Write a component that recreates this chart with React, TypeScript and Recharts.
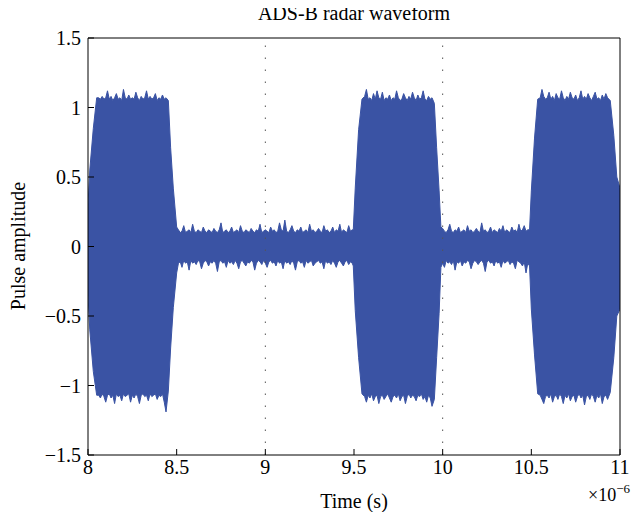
import React from "react";
import { ComposedChart, Area, XAxis, YAxis, ReferenceLine } from "recharts";

// Time in microseconds (axis shows ×10^-6 s); envelope of the waveform
const time = [
  // pulse 1 rise
  8.0, 8.01, 8.03, 8.049,
  // pulse 1 top
  8.06, 8.07, 8.08, 8.09, 8.1, 8.11, 8.12, 8.13, 8.14, 8.15,
  8.16, 8.17, 8.18, 8.19, 8.2, 8.21, 8.22, 8.23, 8.24, 8.25,
  8.26, 8.27, 8.28, 8.29, 8.3, 8.31, 8.32, 8.33, 8.34, 8.35,
  8.36, 8.37, 8.38, 8.39, 8.4, 8.41, 8.42, 8.43, 8.44,
  // pulse 1 fall
  8.453, 8.466, 8.481, 8.5,
  // gap 1
  8.51, 8.52, 8.53, 8.54, 8.55, 8.56, 8.57, 8.58, 8.59, 8.6,
  8.61, 8.62, 8.63, 8.64, 8.65, 8.66, 8.67, 8.68, 8.69, 8.7,
  8.71, 8.72, 8.73, 8.74, 8.75, 8.76, 8.77, 8.78, 8.79, 8.8,
  8.81, 8.82, 8.83, 8.84, 8.85, 8.86, 8.87, 8.88, 8.89, 8.9,
  8.91, 8.92, 8.93, 8.94, 8.95, 8.96, 8.97, 8.98, 8.99, 9.0,
  9.01, 9.02, 9.03, 9.04, 9.05, 9.06, 9.07, 9.08, 9.09, 9.1,
  9.11, 9.12, 9.13, 9.14, 9.15, 9.16, 9.17, 9.18, 9.19, 9.2,
  9.21, 9.22, 9.23, 9.24, 9.25, 9.26, 9.27, 9.28, 9.29, 9.3,
  9.31, 9.32, 9.33, 9.34, 9.35, 9.36, 9.37, 9.38, 9.39, 9.4,
  9.41, 9.42, 9.43, 9.44, 9.45, 9.46, 9.47, 9.48, 9.49,
  // pulse 2 rise
  9.496, 9.507, 9.526, 9.545,
  // pulse 2 top
  9.56, 9.57, 9.58, 9.59, 9.6, 9.61, 9.62, 9.63, 9.64, 9.65,
  9.66, 9.67, 9.68, 9.69, 9.7, 9.71, 9.72, 9.73, 9.74, 9.75,
  9.76, 9.77, 9.78, 9.79, 9.8, 9.81, 9.82, 9.83, 9.84, 9.85,
  9.86, 9.87, 9.88, 9.89, 9.9, 9.91, 9.92, 9.93, 9.94,
  // pulse 2 fall
  9.953, 9.966, 9.98, 9.99,
  // gap 2
  10.0, 10.01, 10.02, 10.03, 10.04, 10.05, 10.06, 10.07, 10.08, 10.09,
  10.1, 10.11, 10.12, 10.13, 10.14, 10.15, 10.16, 10.17, 10.18, 10.19,
  10.2, 10.21, 10.22, 10.23, 10.24, 10.25, 10.26, 10.27, 10.28, 10.29,
  10.3, 10.31, 10.32, 10.33, 10.34, 10.35, 10.36, 10.37, 10.38, 10.39,
  10.4, 10.41, 10.42, 10.43, 10.44, 10.45, 10.46, 10.47, 10.48,
  // pulse 3 rise
  10.49, 10.5, 10.518, 10.536,
  // pulse 3 top
  10.55, 10.56, 10.57, 10.58, 10.59, 10.6, 10.61, 10.62, 10.63, 10.64,
  10.65, 10.66, 10.67, 10.68, 10.69, 10.7, 10.71, 10.72, 10.73, 10.74,
  10.75, 10.76, 10.77, 10.78, 10.79, 10.8, 10.81, 10.82, 10.83, 10.84,
  10.85, 10.86, 10.87, 10.88, 10.89, 10.9, 10.91, 10.92, 10.93,
  // pulse 3 fall
  10.945, 10.965, 10.982, 11.0,
];

const upper = [
  0.3, 0.55, 0.85, 1.07,
  1.07, 1.06, 1.08, 1.06, 1.07, 1.12, 1.06, 1.08, 1.05, 1.07,
  1.1, 1.06, 1.07, 1.05, 1.13, 1.07, 1.06, 1.09, 1.06, 1.07,
  1.06, 1.11, 1.07, 1.05, 1.08, 1.06, 1.07, 1.12, 1.06, 1.08,
  1.06, 1.07, 1.1, 1.05, 1.07, 1.06, 1.09, 1.06, 1.07,
  1.05, 0.71, 0.42, 0.14,
  0.12, 0.1, 0.11, 0.15, 0.1, 0.11, 0.12, 0.1, 0.16, 0.11,
  0.1, 0.12, 0.11, 0.1, 0.14, 0.11, 0.1, 0.12, 0.11, 0.1,
  0.13, 0.11, 0.1, 0.12, 0.17, 0.1, 0.11, 0.12, 0.1, 0.11,
  0.14, 0.1, 0.11, 0.12, 0.1, 0.15, 0.11, 0.1, 0.12, 0.11,
  0.1, 0.13, 0.11, 0.1, 0.12, 0.11, 0.16, 0.1, 0.11, 0.12,
  0.11, 0.1, 0.14, 0.11, 0.12, 0.1, 0.11, 0.17, 0.12, 0.11,
  0.19, 0.11, 0.1, 0.12, 0.15, 0.11, 0.1, 0.12, 0.11, 0.14,
  0.1, 0.11, 0.12, 0.1, 0.16, 0.11, 0.12, 0.1, 0.11, 0.13,
  0.11, 0.1, 0.15, 0.11, 0.12, 0.1, 0.11, 0.14, 0.1, 0.12,
  0.11, 0.16, 0.1, 0.12, 0.11, 0.1, 0.15, 0.11, 0.12,
  0.12, 0.42, 0.84, 1.06,
  1.08, 1.13, 1.06, 1.07, 1.05, 1.1, 1.06, 1.12, 1.07, 1.06,
  1.11, 1.05, 1.07, 1.06, 1.09, 1.05, 1.07, 1.06, 1.12, 1.07,
  1.05, 1.06, 1.1, 1.07, 1.05, 1.08, 1.06, 1.11, 1.07, 1.05,
  1.09, 1.06, 1.07, 1.12, 1.06, 1.05, 1.08, 1.06, 1.07,
  1.03, 0.71, 0.4, 0.14,
  0.13, 0.11, 0.1, 0.12, 0.16, 0.11, 0.1, 0.12, 0.11, 0.14,
  0.1, 0.11, 0.12, 0.1, 0.15, 0.11, 0.12, 0.1, 0.11, 0.13,
  0.11, 0.1, 0.17, 0.11, 0.12, 0.1, 0.11, 0.14, 0.1, 0.12,
  0.11, 0.1, 0.13, 0.11, 0.15, 0.1, 0.12, 0.11, 0.1, 0.14,
  0.11, 0.12, 0.1, 0.16, 0.11, 0.12, 0.15, 0.11, 0.12,
  0.12, 0.4, 0.78, 1.06,
  1.07, 1.13, 1.08, 1.06, 1.07, 1.11, 1.06, 1.08, 1.05, 1.1,
  1.07, 1.06, 1.12, 1.07, 1.05, 1.08, 1.06, 1.11, 1.07, 1.06,
  1.09, 1.05, 1.07, 1.12, 1.06, 1.08, 1.06, 1.1, 1.07, 1.05,
  1.08, 1.11, 1.06, 1.07, 1.05, 1.09, 1.06, 1.1, 1.07,
  1.05, 0.8, 0.5, 0.42,
];

const lower = [
  -0.35, -0.6, -0.9, -1.07,
  -1.07, -1.09, -1.06, -1.08, -1.12, -1.07, -1.06, -1.09, -1.07, -1.13,
  -1.06, -1.08, -1.07, -1.11, -1.06, -1.08, -1.07, -1.06, -1.12, -1.07,
  -1.09, -1.06, -1.08, -1.13, -1.07, -1.06, -1.08, -1.07, -1.11, -1.06,
  -1.08, -1.07, -1.06, -1.1, -1.07, -1.08, -1.06, -1.12, -1.19,
  -1.04, -0.73, -0.44, -0.19,
  -0.12, -0.11, -0.15, -0.1, -0.12, -0.11, -0.17, -0.1, -0.12, -0.11,
  -0.13, -0.1, -0.11, -0.16, -0.12, -0.1, -0.11, -0.14, -0.11, -0.12,
  -0.1, -0.12, -0.18, -0.11, -0.1, -0.12, -0.11, -0.15, -0.1, -0.12,
  -0.11, -0.13, -0.1, -0.12, -0.16, -0.11, -0.1, -0.12, -0.14, -0.11,
  -0.12, -0.1, -0.11, -0.17, -0.12, -0.1, -0.11, -0.13, -0.1, -0.12,
  -0.15, -0.11, -0.1, -0.12, -0.11, -0.14, -0.1, -0.12, -0.11, -0.16,
  -0.1, -0.12, -0.11, -0.13, -0.1, -0.12, -0.17, -0.11, -0.1, -0.12,
  -0.11, -0.15, -0.1, -0.12, -0.11, -0.1, -0.14, -0.12, -0.11, -0.1,
  -0.12, -0.11, -0.16, -0.1, -0.12, -0.11, -0.13, -0.1, -0.12, -0.15,
  -0.11, -0.1, -0.12, -0.14, -0.11, -0.1, -0.13, -0.11, -0.12,
  -0.14, -0.46, -0.8, -1.06,
  -1.08, -1.12, -1.07, -1.09, -1.06, -1.11, -1.08, -1.07, -1.13, -1.08,
  -1.07, -1.1, -1.08, -1.06, -1.09, -1.12, -1.08, -1.07, -1.09, -1.06,
  -1.11, -1.08, -1.07, -1.13, -1.08, -1.06, -1.09, -1.07, -1.08, -1.11,
  -1.07, -1.08, -1.06, -1.1, -1.08, -1.12, -1.07, -1.09, -1.15,
  -1.1, -0.8, -0.48, -0.15,
  -0.12, -0.15, -0.1, -0.12, -0.11, -0.13, -0.1, -0.17, -0.11, -0.12,
  -0.1, -0.14, -0.11, -0.12, -0.1, -0.11, -0.16, -0.12, -0.1, -0.11,
  -0.13, -0.11, -0.1, -0.12, -0.18, -0.11, -0.1, -0.12, -0.11, -0.14,
  -0.1, -0.12, -0.11, -0.15, -0.1, -0.12, -0.11, -0.1, -0.13, -0.11,
  -0.12, -0.16, -0.1, -0.11, -0.12, -0.14, -0.11, -0.19, -0.12,
  -0.14, -0.45, -0.78, -1.06,
  -1.07, -1.1, -1.13, -1.08, -1.07, -1.09, -1.06, -1.12, -1.08, -1.07,
  -1.1, -1.06, -1.08, -1.13, -1.07, -1.09, -1.06, -1.11, -1.08, -1.07,
  -1.12, -1.08, -1.06, -1.09, -1.07, -1.14, -1.08, -1.07, -1.1, -1.06,
  -1.08, -1.12, -1.07, -1.09, -1.06, -1.13, -1.08, -1.07, -1.1,
  -1.05, -0.8, -0.5, -0.45,
];

const xTicks = [8, 8.5, 9, 9.5, 10, 10.5, 11];
const yTicks = [-1.5, -1, -0.5, 0, 0.5, 1, 1.5];
const gridX = [9, 10];

const data = time.map((t, i) => ({ t, range: [lower[i], upper[i]] }));

const FONT = '"Liberation Serif", "DejaVu Serif", serif';
const BLUE = "#3A53A4";
const fmt = (v: number) => String(v).replace("-", "\u2212");

const textBase: React.CSSProperties = {
  position: "absolute",
  fontSize: 20,
  lineHeight: "20px",
  whiteSpace: "nowrap",
};

export default function App() {
  return (
    <div style={{ position: "relative", width: 623, height: 504, fontFamily: FONT, color: "#000" }}>
      <ComposedChart
        width={623}
        height={504}
        data={data}
        margin={{ top: 29, right: 10, left: 0, bottom: 0 }}
      >
        <XAxis
          dataKey="t"
          type="number"
          domain={[8, 11]}
          ticks={xTicks}
          tickFormatter={fmt}
          allowDataOverflow
          height={57}
          tickSize={-6}
          tickMargin={11}
          stroke="#000"
          tick={{ fill: "#000", fontSize: 20, fontFamily: FONT }}
          interval={0}
        />
        <XAxis
          xAxisId="top"
          dataKey="t"
          type="number"
          orientation="top"
          domain={[8, 11]}
          ticks={xTicks}
          allowDataOverflow
          height={1}
          tickSize={-6}
          tick={false}
          stroke="#000"
          interval={0}
        />
        <YAxis
          type="number"
          domain={[-1.5, 1.5]}
          ticks={yTicks}
          tickFormatter={fmt}
          allowDataOverflow
          width={80}
          tickSize={-6}
          tickMargin={13}
          stroke="#000"
          tick={{ fill: "#000", fontSize: 20, fontFamily: FONT }}
          interval={0}
        />
        <YAxis
          yAxisId="right"
          type="number"
          orientation="right"
          domain={[-1.5, 1.5]}
          ticks={yTicks}
          allowDataOverflow
          width={1}
          tickSize={-6}
          tick={false}
          stroke="#000"
          interval={0}
        />
        <Area
          dataKey="range"
          type="linear"
          stroke={BLUE}
          strokeWidth={1}
          fill={BLUE}
          fillOpacity={1}
          isAnimationActive={false}
          dot={false}
          activeDot={false}
        />
        {gridX.map((g) => (
          <ReferenceLine key={g} x={g} stroke="#555" strokeWidth={1} strokeDasharray="1.5 10.5" />
        ))}
      </ComposedChart>
      <div style={{ ...textBase, left: 346, top: -5, transform: "translateX(-50%)" }}>
        ADS-B radar waveform
      </div>
      <div style={{ ...textBase, left: 346, top: 483, transform: "translateX(-50%)" }}>
        Time (s)
      </div>
      <div
        style={{
          ...textBase,
          left: 10,
          top: 238,
          transform: "translate(-50%, -50%) rotate(-90deg)",
        }}
      >
        Pulse amplitude
      </div>
      <div style={{ ...textBase, left: 580, top: 477, fontSize: 18 }}>
        ×10<span style={{ fontSize: 13, position: "relative", top: -8 }}>−6</span>
      </div>
    </div>
  );
}
